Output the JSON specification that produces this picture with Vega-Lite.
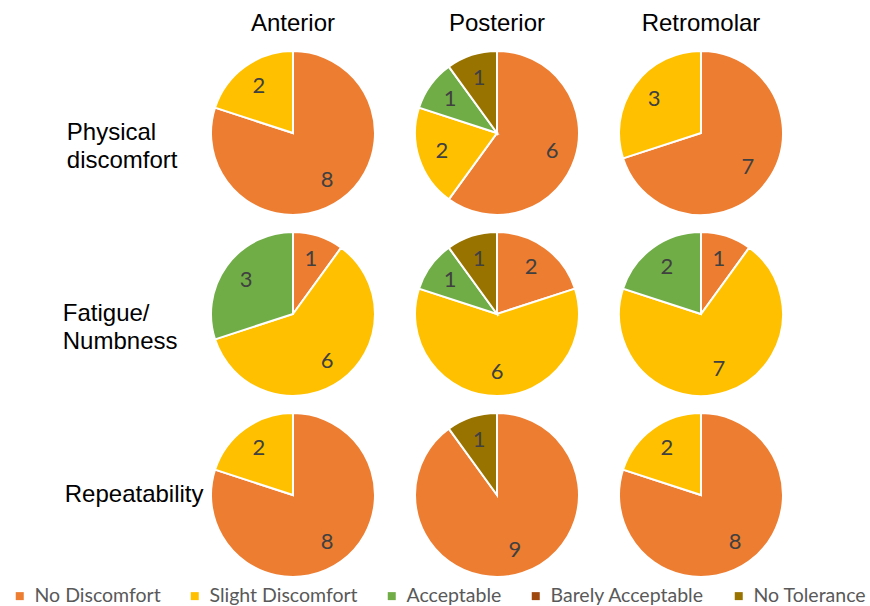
{
  "$schema": "https://vega.github.io/schema/vega-lite/v6.json",
  "padding": {"left": 10, "top": 12, "right": 0, "bottom": 0},
  "data": {"values": [
    {"loc": "Anterior", "aspect": "Physical discomfort", "cat": "No Discomfort", "rank": 1, "n": 8},
    {"loc": "Anterior", "aspect": "Physical discomfort", "cat": "Slight Discomfort", "rank": 2, "n": 2},
    {"loc": "Posterior", "aspect": "Physical discomfort", "cat": "No Discomfort", "rank": 1, "n": 6},
    {"loc": "Posterior", "aspect": "Physical discomfort", "cat": "Slight Discomfort", "rank": 2, "n": 2},
    {"loc": "Posterior", "aspect": "Physical discomfort", "cat": "Acceptable", "rank": 3, "n": 1},
    {"loc": "Posterior", "aspect": "Physical discomfort", "cat": "No Tolerance", "rank": 5, "n": 1},
    {"loc": "Retromolar", "aspect": "Physical discomfort", "cat": "No Discomfort", "rank": 1, "n": 7},
    {"loc": "Retromolar", "aspect": "Physical discomfort", "cat": "Slight Discomfort", "rank": 2, "n": 3},
    {"loc": "Anterior", "aspect": "Fatigue/Numbness", "cat": "No Discomfort", "rank": 1, "n": 1},
    {"loc": "Anterior", "aspect": "Fatigue/Numbness", "cat": "Slight Discomfort", "rank": 2, "n": 6},
    {"loc": "Anterior", "aspect": "Fatigue/Numbness", "cat": "Acceptable", "rank": 3, "n": 3},
    {"loc": "Posterior", "aspect": "Fatigue/Numbness", "cat": "No Discomfort", "rank": 1, "n": 2},
    {"loc": "Posterior", "aspect": "Fatigue/Numbness", "cat": "Slight Discomfort", "rank": 2, "n": 6},
    {"loc": "Posterior", "aspect": "Fatigue/Numbness", "cat": "Acceptable", "rank": 3, "n": 1},
    {"loc": "Posterior", "aspect": "Fatigue/Numbness", "cat": "No Tolerance", "rank": 5, "n": 1},
    {"loc": "Retromolar", "aspect": "Fatigue/Numbness", "cat": "No Discomfort", "rank": 1, "n": 1},
    {"loc": "Retromolar", "aspect": "Fatigue/Numbness", "cat": "Slight Discomfort", "rank": 2, "n": 7},
    {"loc": "Retromolar", "aspect": "Fatigue/Numbness", "cat": "Acceptable", "rank": 3, "n": 2},
    {"loc": "Anterior", "aspect": "Repeatability", "cat": "No Discomfort", "rank": 1, "n": 8},
    {"loc": "Anterior", "aspect": "Repeatability", "cat": "Slight Discomfort", "rank": 2, "n": 2},
    {"loc": "Posterior", "aspect": "Repeatability", "cat": "No Discomfort", "rank": 1, "n": 9},
    {"loc": "Posterior", "aspect": "Repeatability", "cat": "No Tolerance", "rank": 5, "n": 1},
    {"loc": "Retromolar", "aspect": "Repeatability", "cat": "No Discomfort", "rank": 1, "n": 8},
    {"loc": "Retromolar", "aspect": "Repeatability", "cat": "Slight Discomfort", "rank": 2, "n": 2}
  ]},
  "facet": {
    "column": {
      "field": "loc", "type": "nominal", "sort": ["Anterior", "Posterior", "Retromolar"],
      "header": {"title": null, "labelFont": "Liberation Sans", "labelFontSize": 24, "labelColor": "#000000", "labelPadding": 9}
    },
    "row": {
      "field": "aspect", "type": "nominal", "sort": ["Physical discomfort", "Fatigue/Numbness", "Repeatability"],
      "header": {
        "title": null, "labelOrient": "left", "labelAngle": 0, "labelAlign": "left", "labelBaseline": "middle",
        "labelFont": "Liberation Sans", "labelFontSize": 24, "labelColor": "#000000", "labelLineHeight": 28, "labelPadding": -18.5,
        "labelExpr": "datum.value == 'Physical discomfort' ? ['Physical', 'discomfort\uFFA0\uFFA0'] : datum.value == 'Fatigue/Numbness' ? ['Fatigue/', 'Numbness\uFFA0\uFFA0'] : 'Repeatability\u2800'"
      }
    }
  },
  "spacing": {"row": 5, "column": 24},
  "spec": {
    "width": 180,
    "height": 176,
    "layer": [
      {
        "mark": {"type": "arc", "outerRadius": 82, "stroke": "#ffffff", "strokeWidth": 2},
        "encoding": {
          "theta": {"field": "n", "type": "quantitative", "stack": true},
          "order": {"field": "rank", "type": "quantitative", "sort": "ascending"},
          "color": {
            "field": "cat", "type": "nominal",
            "scale": {
              "domain": ["No Discomfort", "Slight Discomfort", "Acceptable", "Barely Acceptable", "No Tolerance"],
              "range": ["#ED7D31", "#FFC000", "#70AD47", "#9E480E", "#997300"]
            },
            "legend": {
              "title": null, "orient": "none", "direction": "horizontal",
              "legendX": -193, "legendY": 541,
              "symbolType": "square", "symbolSize": 64, "symbolStrokeWidth": 0,
              "labelFont": "Lato", "labelFontSize": 19.5, "labelColor": "#595959", "labelOffset": 5,
              "columnPadding": 24
            }
          }
        }
      },
      {
        "mark": {"type": "text", "radius": 58, "font": "Lato", "fontSize": 22, "color": "#404040"},
        "encoding": {
          "theta": {"field": "n", "type": "quantitative", "stack": true},
          "order": {"field": "rank", "type": "quantitative", "sort": "ascending"},
          "text": {"field": "n", "type": "quantitative"}
        }
      }
    ]
  },
  "config": {"view": {"stroke": null}}
}
